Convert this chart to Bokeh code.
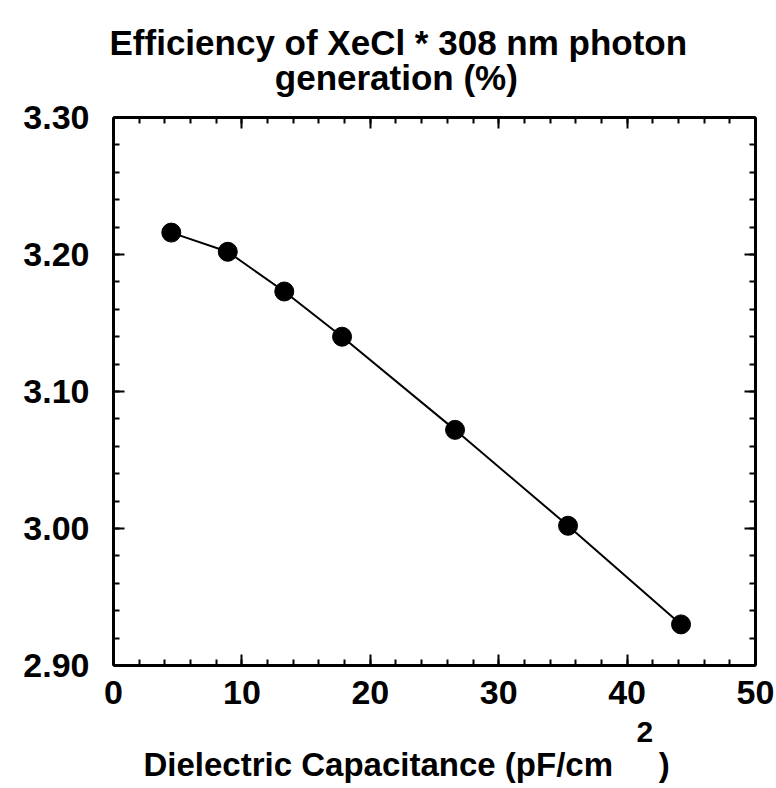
import numpy as np
from bokeh.plotting import figure
from bokeh.models import (Range1d, LinearAxis, FixedTicker, PrintfTickFormatter,
                          CustomJSTickFormatter, Title)
from bokeh.embed import file_html
from bokeh.resources import INLINE

# Data
capacitance = [4.5, 8.9, 13.3, 17.8, 26.6, 35.4, 44.2]
efficiency = [3.216, 3.202, 3.173, 3.140, 3.072, 3.002, 2.930]

x_tick_values = [0, 10, 20, 30, 40, 50]
y_tick_values = [2.90, 3.00, 3.10, 3.20, 3.30]

title_line1 = "Efficiency of XeCl * 308 nm photon"
title_line2 = "generation (%)"
xlabel_main = "Dielectric Capacitance (pF/cm\u00a0\u00a0\u00a0\u00a0\u00a0)"
xlabel_sup = "2"

W, H = 776, 788
FL, FR, FT, FB = 113, 755, 117, 665
FONT = "Liberation Sans"
NBSP = "\u00a0"

p = figure(width=W, height=H, output_backend="svg", toolbar_location=None,
           title=None,
           x_range=Range1d(0, 50), y_range=Range1d(2.9 - 1e-9, 3.3 + 1e-9),
           min_border_left=FL, min_border_right=W - FR,
           min_border_top=FT, min_border_bottom=H - FB,
           x_axis_location=None, y_axis_location=None)
p.grid.visible = False
p.outline_line_color = None
p.background_fill_color = "white"
p.border_fill_color = "white"


def style(ax, show_labels):
    ax.axis_line_width = 3
    ax.axis_line_color = "black"
    ax.major_tick_in = 11
    ax.major_tick_out = 0
    ax.minor_tick_in = 6
    ax.minor_tick_out = 0
    ax.major_tick_line_width = 2
    ax.minor_tick_line_width = 2
    ax.major_tick_line_color = "black"
    ax.minor_tick_line_color = "black"
    ax.major_label_text_font = FONT
    ax.major_label_text_font_style = "bold"
    ax.major_label_text_color = "black"
    if show_labels:
        ax.major_label_text_font_size = "34px"
    else:
        ax.formatter = CustomJSTickFormatter(code="return ''")
        ax.major_label_text_font_size = "0px"
        ax.major_label_standoff = 0


x_minor = list(np.arange(0, 50.001, 2))
y_minor = list(np.round(np.arange(2.90, 3.3001, 0.02), 2))
xt = FixedTicker(ticks=x_tick_values, minor_ticks=x_minor)
yt = FixedTicker(ticks=y_tick_values, minor_ticks=y_minor)

xb = LinearAxis(ticker=xt)
style(xb, True)
xb.major_label_standoff = 15
p.add_layout(xb, "below")

xa = LinearAxis(ticker=xt)
style(xa, False)
p.add_layout(xa, "above")

yl = LinearAxis(ticker=yt, formatter=PrintfTickFormatter(format="%.2f"))
style(yl, True)
yl.major_label_standoff = 24
p.add_layout(yl, "left")

yr = LinearAxis(ticker=yt)
style(yr, False)
p.add_layout(yr, "right")

p.line(capacitance, efficiency, line_color="black", line_width=2)
p.scatter(capacitance, efficiency, size=19, fill_color="black", line_color="black")


def title(text, side, offset, size, standoff, line_height=1.0):
    t = Title(text=text, align="left", offset=offset, text_font=FONT,
              text_font_style="bold", text_font_size=size, text_color="black",
              standoff=standoff, text_line_height=line_height)
    p.add_layout(t, side)
    return t


# Two-line title; second line indented so that both lines are centred alike
title(title_line1 + "\n" + NBSP * 17 + title_line2, "above", 109 - FL, "35px", 40, 0.9)

# X axis label with superscript (first added sits nearest to the frame)
title(xlabel_sup, "below", 636 - FL, "30px", 26)
title(xlabel_main, "below", 143 - FL, "33px", -22)

open("out.html", "w").write(file_html(p, INLINE))
